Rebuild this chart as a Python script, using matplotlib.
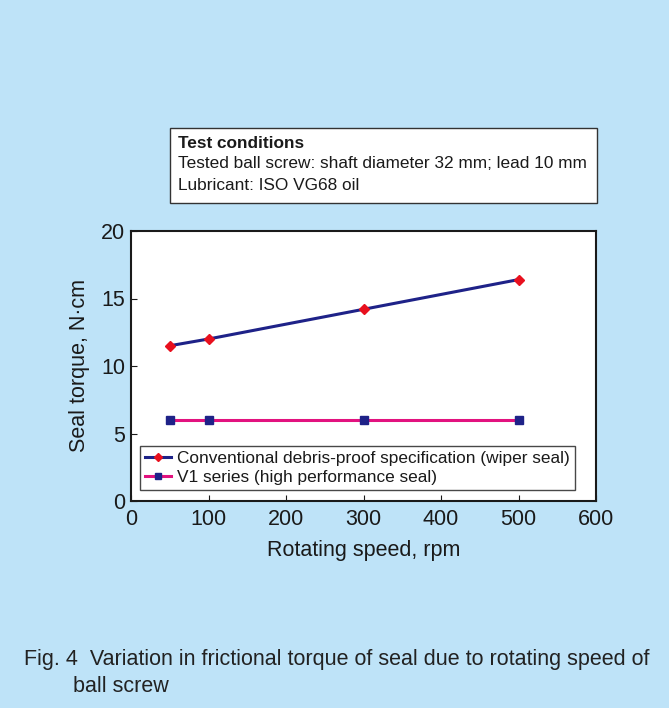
import matplotlib
matplotlib.use("Agg")
import matplotlib.pyplot as plt
from matplotlib.patches import Rectangle

plt.rcParams['font.family'] = ['Liberation Sans', 'DejaVu Sans']

speed_rpm = [50, 100, 300, 500]
torque_conventional = [11.5, 12.0, 14.2, 16.4]
torque_v1 = [6.0, 6.0, 6.0, 6.0]
label_conventional = "Conventional debris-proof specification (wiper seal)"
label_v1 = "V1 series (high performance seal)"
x_ticks = [0, 100, 200, 300, 400, 500, 600]
y_ticks = [0, 5, 10, 15, 20]

bg = "#BEE3F8"
ink = "#1A1A1A"
fig = plt.figure(figsize=(6.69, 7.08), dpi=100, facecolor=bg)
ax = fig.add_axes([131/669, 207/708, 465/669, 270/708])
ax.set_facecolor("white")

ax.plot(speed_rpm, torque_conventional, color="#1E2288", lw=2.2,
        marker="D", ms=5, mfc="#E8101E", mec="#E8101E", label=label_conventional)
ax.plot(speed_rpm, torque_v1, color="#E2127F", lw=2.2,
        marker="s", ms=5.5, mfc="#1E2288", mec="#1E2288", label=label_v1)

ax.set_xlim(0, 600)
ax.set_ylim(0, 20)
ax.set_xticks(x_ticks)
ax.set_yticks(y_ticks)
ax.tick_params(axis="x", pad=6)
ax.tick_params(axis="y", pad=4)
ax.tick_params(direction="in", length=4, width=0.8, labelsize=15.5, colors=ink)
for s in ax.spines.values():
    s.set_linewidth(1.5)
    s.set_color(ink)
ax.set_xlabel("Rotating speed, rpm", fontsize=15.5, labelpad=7, color=ink)
ax.set_ylabel("Seal torque, N\u00b7cm", fontsize=15.5, labelpad=8, color=ink)

leg = ax.legend(loc="lower left", bbox_to_anchor=(0.019, 0.041, 0.936, 0.181),
                mode="expand", fontsize=12.4, frameon=True, fancybox=False,
                borderpad=0.3, handlelength=1.5, labelspacing=0.2,
                handletextpad=0.35, borderaxespad=0, markerscale=0.8)
leg.get_frame().set_edgecolor(ink)
leg.get_frame().set_linewidth(1.0)
for t in leg.get_texts():
    t.set_color(ink)

# Test conditions box
fig.patches.append(Rectangle((170/669, 1 - 203/708), 427/669, 75/708,
                             transform=fig.transFigure, facecolor="white",
                             edgecolor="#333333", lw=1.0))
fig.text(178/669, 1 - 144/708, "Test conditions", fontsize=12.4, fontweight="bold",
         va="center", color=ink)
fig.text(178/669, 1 - 164/708, "Tested ball screw: shaft diameter 32 mm; lead 10 mm",
         fontsize=12.4, va="center", color=ink)
fig.text(178/669, 1 - 185/708, "Lubricant: ISO VG68 oil", fontsize=12.4,
         va="center", color=ink)

fig.text(24/669, 1 - 660/708,
         "Fig. 4  Variation in frictional torque of seal due to rotating speed of",
         fontsize=15.5, va="center", color="#222222")
fig.text(73/669, 1 - 686/708, "ball screw", fontsize=15.5, va="center", color="#222222")

fig.savefig("out.png", dpi=100, facecolor=bg)
